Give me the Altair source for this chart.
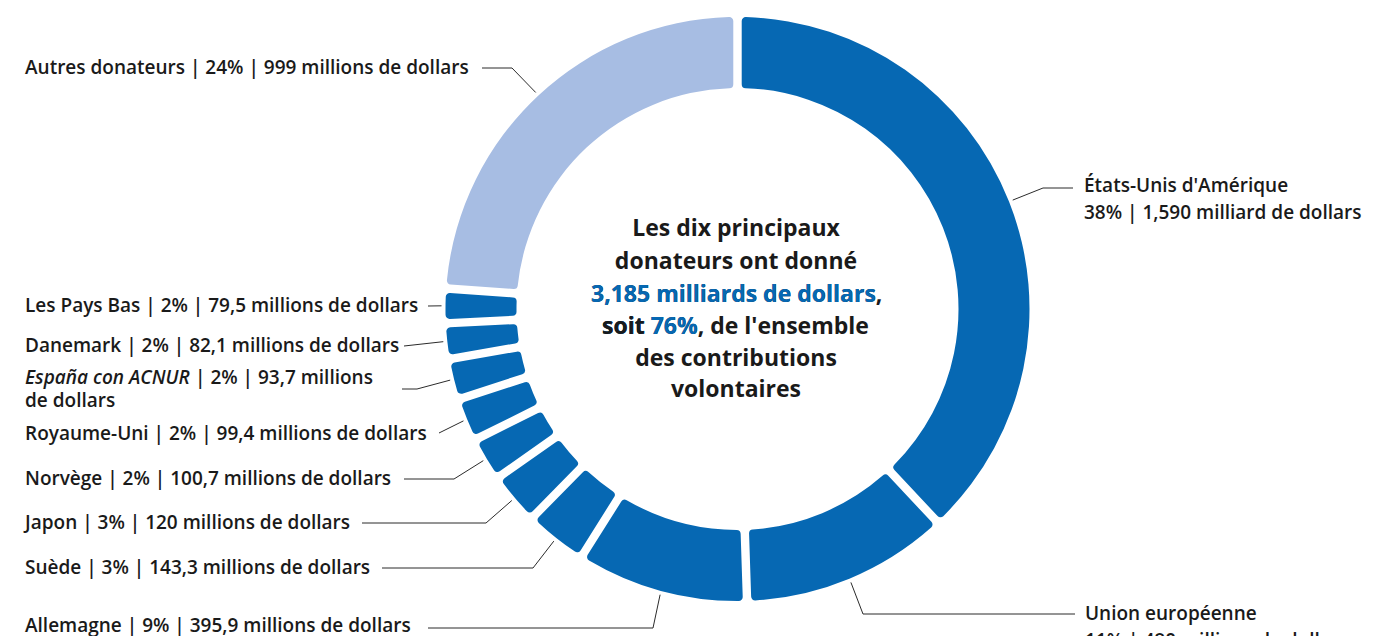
import math
import altair as alt
import pandas as pd

# ---------------- data ----------------
donors = ["États-Unis d'Amérique", "Union européenne", "Allemagne", "Suède", "Japon",
          "Norvège", "Royaume-Uni", "España con ACNUR", "Danemark", "Les Pays Bas",
          "Autres donateurs"]
amounts_musd = [1590, 480, 395.9, 143.3, 120, 100.7, 99.4, 93.7, 82.1, 79.5, 999]
shares_pct = [38, 11, 9, 3, 3, 2, 2, 2, 2, 2, 24]
amount_texts = ["1,590 milliard de dollars", "480 millions de dollars",
                "395,9 millions de dollars", "143,3 millions de dollars",
                "120 millions de dollars", "100,7 millions de dollars",
                "99,4 millions de dollars", "93,7 millions de dollars",
                "82,1 millions de dollars", "79,5 millions de dollars",
                "999 millions de dollars"]
center_lines = ["Les dix principaux", "donateurs ont donné",
                "3,185 milliards de dollars", "soit ", "76%", ", de l'ensemble",
                "des contributions", "volontaires"]

# ---------------- style / layout ----------------
DARK = "#0668B3"
LIGHT = "#A7BDE3"
INK = "#1a1a1a"
FONT = "Open Sans"
colors = [DARK] * 10 + [LIGHT]

W, H = 1379, 628
OFF = 8                    # page margin; scales are expressed in page pixels
CX, CY = 737.5, 309.0      # donut centre (page px)
R_IN, R_OUT = 221, 292
R_LEAD = 296

label_layout = {
    "États-Unis d'Amérique": (1084, 186, "stack"),
    "Union européenne": (1085, 614, "stack"),
    "Allemagne": (25, 626, "inline"),
    "Suède": (25, 568, "inline"),
    "Japon": (25, 523, "inline"),
    "Norvège": (25, 479, "inline"),
    "Royaume-Uni": (25, 434, "inline"),
    "España con ACNUR": (25, 378, "italic"),
    "Danemark": (25, 346, "inline"),
    "Les Pays Bas": (25, 306, "inline"),
    "Autres donateurs": (25, 68, "inline"),
}
leader_layout = {
    "États-Unis d'Amérique": [(1043, 188), (1073, 188)],
    "Union européenne": [(863, 614), (1075, 614)],
    "Allemagne": [(653, 628), (428, 628)],
    "Suède": [(533, 568), (382, 568)],
    "Japon": [(486, 523), (362, 523)],
    "Norvège": [(454, 479), (404, 479)],
    "Royaume-Uni": [(439, 433)],
    "España con ACNUR": [(417, 389), (402, 389)],
    "Danemark": [(404, 346)],
    "Les Pays Bas": [(428, 306)],
    "Autres donateurs": [(512, 68), (482, 68)],
}
ITALIC_REST_X = 195
LINE2_DY = 27
LFS = 19

xs = alt.Scale(domain=[OFF, OFF + W], nice=False, zero=False)
ys = alt.Scale(domain=[OFF, OFF + H], nice=False, zero=False, reverse=True)

# ---------------- donut ----------------
arc_df = pd.DataFrame({"donor": donors, "amount": amounts_musd, "k": range(len(donors))})
arc = alt.Chart(arc_df).mark_arc(
    innerRadius=R_IN, outerRadius=R_OUT, padAngle=0.023, cornerRadius=4
).encode(
    theta=alt.Theta("amount:Q", stack=True),
    order=alt.Order("k:Q"),
    color=alt.Color("donor:N", scale=alt.Scale(domain=donors, range=colors), legend=None),
    x=alt.value(CX - OFF),
    y=alt.value(CY - OFF),
)

# ---------------- leader lines ----------------
total = sum(amounts_musd)
rows = []
cum = 0.0
for name, a in zip(donors, amounts_musd):
    mid = (cum + a / 2) / total * 2 * math.pi
    cum += a
    pts = [(CX + R_LEAD * math.sin(mid), CY - R_LEAD * math.cos(mid))] + leader_layout[name]
    for i, (px, py) in enumerate(pts):
        rows.append({"donor": name, "seq": i, "x": px, "y": py})
lead_df = pd.DataFrame(rows)
leads = alt.Chart(lead_df).mark_line(color="#2b2b2b", strokeWidth=1).encode(
    x=alt.X("x:Q", scale=xs, axis=None),
    y=alt.Y("y:Q", scale=ys, axis=None),
    detail="donor:N",
    order="seq:Q",
)

# ---------------- labels ----------------
normal_rows, italic_rows = [], []
for name, s, at in zip(donors, shares_pct, amount_texts):
    x, y, mode = label_layout[name]
    if mode == "inline":
        normal_rows.append({"t": f"{name} | {s}% | {at}", "x": x, "y": y})
    elif mode == "stack":
        normal_rows.append({"t": name, "x": x, "y": y})
        normal_rows.append({"t": f"{s}% | {at}", "x": x, "y": y + LINE2_DY})
    else:
        head, tail = at.split(" de ", 1)
        italic_rows.append({"t": name, "x": x, "y": y})
        normal_rows.append({"t": f"| {s}% | {head}", "x": ITALIC_REST_X, "y": y})
        normal_rows.append({"t": f"de {tail}", "x": x, "y": y + 23})

def text_layer(df, **kw):
    return alt.Chart(pd.DataFrame(df)).mark_text(
        align="left", baseline="middle", font=FONT, fontSize=LFS,
        fontWeight=600, color=INK, **kw
    ).encode(
        x=alt.X("x:Q", scale=xs, axis=None),
        y=alt.Y("y:Q", scale=ys, axis=None),
        text="t:N",
    )

labels = text_layer(normal_rows)
labels_it = text_layer(italic_rows, fontStyle="italic")

# ---------------- centre text ----------------
CFS = 23
TX = 736
L3X, L4X = 591, 602
ctr_rows = [
    {"t": center_lines[0], "x": TX, "y": 229, "c": INK, "a": "center"},
    {"t": center_lines[1], "x": TX, "y": 262, "c": INK, "a": "center"},
    {"t": center_lines[2] + ",", "x": L3X, "y": 295, "c": INK, "a": "left"},
    {"t": center_lines[2], "x": L3X, "y": 295, "c": DARK, "a": "left"},
    {"t": center_lines[3] + center_lines[4] + center_lines[5], "x": L4X, "y": 327, "c": INK, "a": "left"},
    {"t": center_lines[3] + center_lines[4], "x": L4X, "y": 327, "c": DARK, "a": "left"},
    {"t": center_lines[3].strip(), "x": L4X, "y": 327, "c": INK, "a": "left"},
    {"t": center_lines[6], "x": TX, "y": 359, "c": INK, "a": "center"},
    {"t": center_lines[7], "x": TX, "y": 390, "c": INK, "a": "center"},
]
ctr_layers = []
for r in ctr_rows:
    ctr_layers.append(
        alt.Chart(pd.DataFrame([r])).mark_text(
            align=r["a"], baseline="middle", font=FONT, fontSize=CFS,
            fontWeight="bold", color=r["c"]
        ).encode(
            x=alt.X("x:Q", scale=xs, axis=None),
            y=alt.Y("y:Q", scale=ys, axis=None),
            text="t:N",
        )
    )

chart = alt.layer(arc, leads, labels, labels_it, *ctr_layers).properties(
    width=W, height=H, padding=0, autosize=alt.AutoSizeParams(type="none"),
    background="white",
).configure_view(stroke=None)

chart.save("out.html", embed_options={"renderer": "svg", "actions": False})
